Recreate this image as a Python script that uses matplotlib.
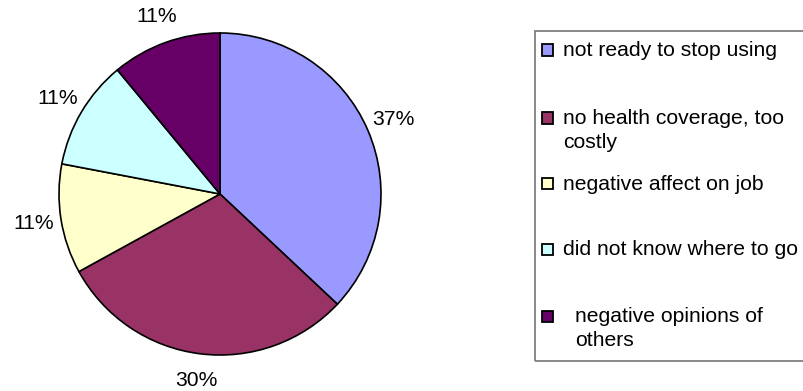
import matplotlib.pyplot as plt
from matplotlib.patches import Rectangle

# reasons given, share of respondents in percent
reasons = ["not ready to stop using",
           "no health coverage, too\ncostly",
           "negative affect on job",
           "did not know where to go",
           "negative opinions of\nothers"]
shares = [37, 30, 11, 11, 11]
colors = ["#9999FF", "#993366", "#FFFFCC", "#CCFFFF", "#660066"]

plt.rcParams['font.family'] = ['Liberation Sans', 'DejaVu Sans']
W, H = 804, 391
fig = plt.figure(figsize=(W / 100, H / 100), dpi=100)

# pie centred at (220, 194) px with radius 161 px
cx, cy, r = 220, 194, 161
ax = fig.add_axes([(cx - r) / W, (H - cy - r) / H, 2 * r / W, 2 * r / H])
ax.pie(shares, colors=colors, startangle=90, counterclock=False,
       autopct='%d%%', pctdistance=1.17,
       wedgeprops=dict(edgecolor='black', linewidth=1.2),
       textprops=dict(fontsize=15.2, color='black'))
ax.set_xlim(-1, 1)
ax.set_ylim(-1, 1)
ax.set_aspect('equal')
ax.axis('off')

# legend box, drawn by hand (right side runs off the figure)
fig.add_artist(Rectangle((535 / W, 1 - 361 / H), 300 / W, 330 / H,
                         transform=fig.transFigure, fill=False,
                         edgecolor='#808080', linewidth=1.3))
rows = [50, 118, 184, 249, 316]
text_x = [563, 563, 563, 563, 575]
for label, col, y, tx in zip(reasons, colors, rows, text_x):
    fig.add_artist(Rectangle((542 / W, 1 - (y + 5.5) / H), 11 / W, 11 / H,
                             transform=fig.transFigure, facecolor=col,
                             edgecolor='black', linewidth=1.3))
    fig.text(tx / W, 1 - (y - 9) / H, label, fontsize=15.2, va='top',
             ha='left', linespacing=1.35)

fig.savefig('out.png', dpi=100)
